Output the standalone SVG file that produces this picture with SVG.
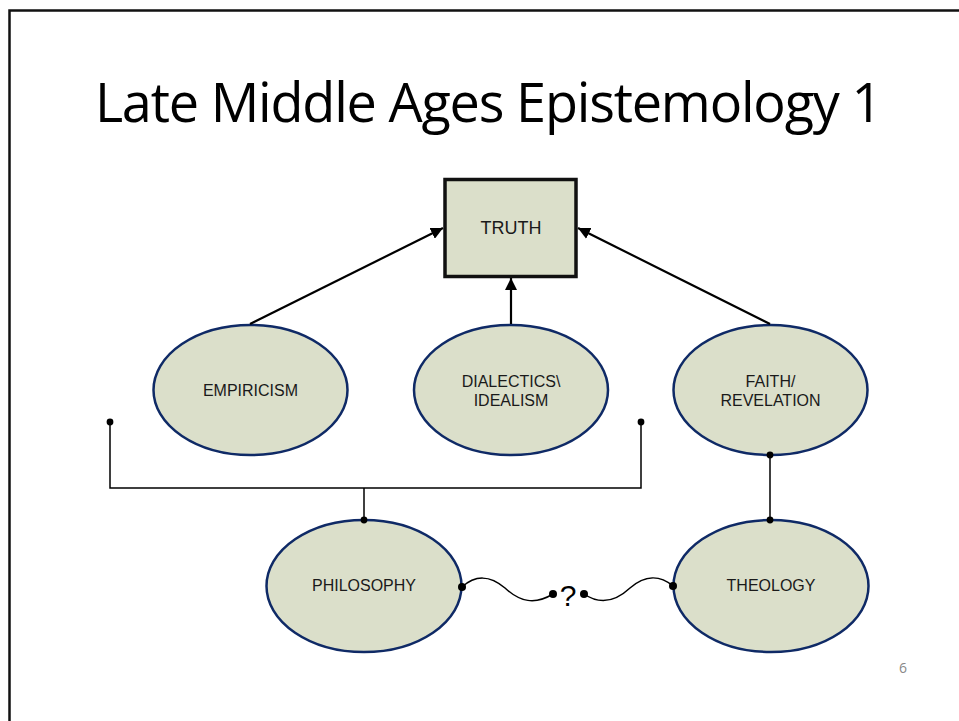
<svg xmlns="http://www.w3.org/2000/svg" width="959" height="721" viewBox="0 0 959 721">
<style>
.node ellipse{fill:#dbdfca;stroke:#0f2a66;stroke-width:2.5}
.lbl{font-family:"Liberation Sans",Arial,sans-serif;font-size:16px;fill:#1a1a1a;text-anchor:middle}
.conn{fill:none;stroke:#000;stroke-width:1.5}
.arr{fill:none;stroke:#000;stroke-width:2.2}
.dot{fill:#000}
</style>
<defs>
<marker id="ah" viewBox="0 0 10 10" refX="10" refY="5" markerWidth="5.5" markerHeight="5.5" orient="auto" markerUnits="strokeWidth">
<path d="M0,0 L10,5 L0,10 z" fill="#000"/>
</marker>
</defs>
<rect x="0" y="0" width="959" height="721" fill="#fff"/>
<path d="M9.5,721 V10.5 H959" fill="none" stroke="#111" stroke-width="2.5"/>
<text x="488" y="122" font-family="'Open Sans','Liberation Sans',sans-serif" font-size="54" letter-spacing="-1.2" fill="#000" text-anchor="middle">Late Middle Ages Epistemology 1</text>
<text x="903" y="673" font-family="'Open Sans','Liberation Sans',sans-serif" font-size="14" fill="#888" text-anchor="middle">6</text>

<g id="truth">
<rect x="445" y="179.5" width="131" height="97" fill="#dbdfca" stroke="#111" stroke-width="3.5"/>
<text class="lbl" x="511" y="234" style="font-size:18px">TRUTH</text>
</g>
<g id="empiricism" class="node">
<ellipse cx="250.5" cy="390" rx="97" ry="65"/>
<text class="lbl" x="250.5" y="396">EMPIRICISM</text>
</g>
<g id="dialectics" class="node">
<ellipse cx="511" cy="390" rx="97" ry="65"/>
<text class="lbl" x="511" y="387">DIALECTICS\</text>
<text class="lbl" x="511" y="406">IDEALISM</text>
</g>
<g id="faith" class="node">
<ellipse cx="770.5" cy="390" rx="97" ry="65"/>
<text class="lbl" x="770.5" y="387">FAITH/</text>
<text class="lbl" x="770.5" y="406">REVELATION</text>
</g>
<g id="philosophy" class="node">
<ellipse cx="364" cy="586" rx="97.5" ry="66"/>
<text class="lbl" x="364" y="591">PHILOSOPHY</text>
</g>
<g id="theology" class="node">
<ellipse cx="771" cy="586" rx="97.5" ry="66"/>
<text class="lbl" x="771" y="591">THEOLOGY</text>
</g>

<g id="connectors">
<line class="arr" x1="250" y1="324" x2="443" y2="228" marker-end="url(#ah)"/>
<line class="arr" x1="511" y1="324" x2="511" y2="278" marker-end="url(#ah)"/>
<line class="arr" x1="770" y1="324" x2="578" y2="228" marker-end="url(#ah)"/>
<path class="conn" d="M110,422 V488 H641 V422"/>
<path class="conn" d="M364,488 V520"/>
<path class="conn" d="M770,455 V520"/>
<circle class="dot" cx="110" cy="422" r="3.4"/>
<circle class="dot" cx="641" cy="422" r="3.4"/>
<circle class="dot" cx="364" cy="520" r="3.4"/>
<circle class="dot" cx="770" cy="455" r="3.4"/>
<circle class="dot" cx="770" cy="520" r="3.4"/>
<path class="conn" d="M462,587 C475,575 490,575 505,588 C520,602 535,605 553,594" stroke-width="2"/>
<path class="conn" d="M584,594 C600,605 615,602 630,588 C645,575 660,575 673,586" stroke-width="2"/>
<circle class="dot" cx="462" cy="587" r="4"/>
<circle class="dot" cx="553" cy="594" r="4"/>
<circle class="dot" cx="584" cy="594" r="4"/>
<circle class="dot" cx="673" cy="586" r="4"/>
<text x="568" y="606" font-family="'Liberation Sans',Arial,sans-serif" font-size="30" fill="#000" text-anchor="middle">?</text>
</g>
</svg>
